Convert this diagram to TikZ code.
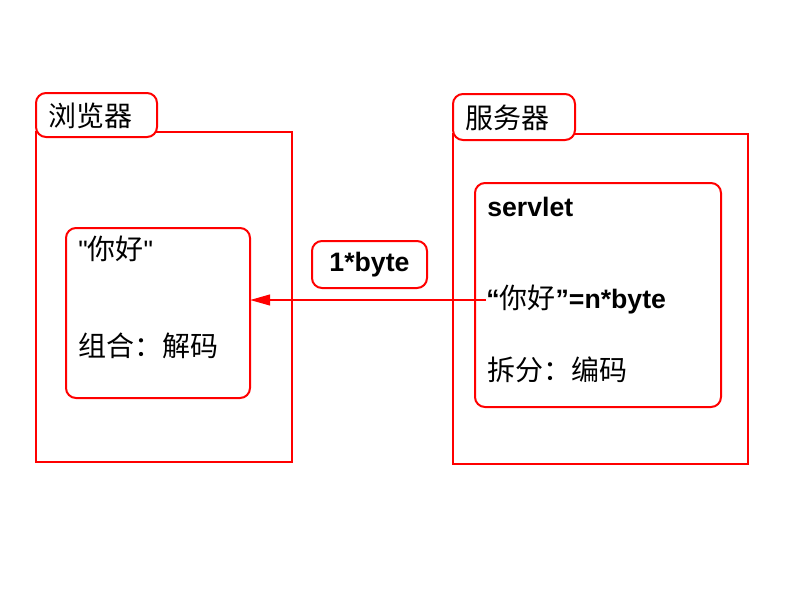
\documentclass[tikz,border=0pt]{standalone}
\usepackage{fontspec}
\setmainfont{Liberation Sans}
\newfontfamily\rawfont{Liberation Sans}
\newfontfamily\cjk{Noto Sans CJK SC}[Scale=1.05]
\usetikzlibrary{arrows.meta}
\tikzset{
  frame/.style={draw=red, line width=1.5pt, fill=white, inner sep=0pt, outer sep=0pt},
  rbox/.style={frame, rounded corners=7.5pt},
  txt/.style={inner sep=0pt, anchor=west, font=\fontsize{20}{24}\selectfont},
  arr/.style={draw=red, line width=1.5pt, -{Triangle[length=15pt,width=8pt]}}
}
\begin{document}
\begin{tikzpicture}[x=0.75pt,y=-0.75pt]
\useasboundingbox (0,0) rectangle (800,600);
% browser
\node[frame, minimum width=192pt, minimum height=247.5pt] (bouter) at (164,297) {};
\node[rbox, minimum width=90.75pt, minimum height=33pt] (btab) at (96.5,115) {};
\node[txt] (btabtext) at (48,116) {\cjk 浏览器};
\node[rbox, minimum width=138pt, minimum height=127.5pt] (binner) at (158,313) {};
\node[txt] (bhello) at (78,249) {{\rawfont "}{\cjk 你好}{\rawfont "}};
\node[txt] (bdecode) at (78,346) {\cjk 组合：解码};
% server
\node[frame, minimum width=221.25pt, minimum height=247.5pt] (souter) at (600.5,299) {};
\node[rbox, minimum width=91.5pt, minimum height=34.5pt] (stab) at (514,117) {};
\node[txt] (stabtext) at (465,118) {\cjk 服务器};
\node[rbox, minimum width=184.5pt, minimum height=168pt] (sinner) at (598,295) {};
\node[txt] (sservlet) at (487,207) {\bfseries servlet};
\node[txt] (shello) at (486,300) {{\rawfont\bfseries “}{\cjk 你好}{\rawfont\bfseries ”}\bfseries =n*byte};
\node[txt] (sencode) at (487,370) {\cjk 拆分：编码};
% transfer
\node[rbox, minimum width=86.25pt, minimum height=35.25pt, font=\fontsize{20}{24}\selectfont\bfseries] (bytebox) at (369.5,264.5) {1*byte};
\draw[arr] (shello.west) -- (shello.west -| binner.east);
\end{tikzpicture}
\end{document}
